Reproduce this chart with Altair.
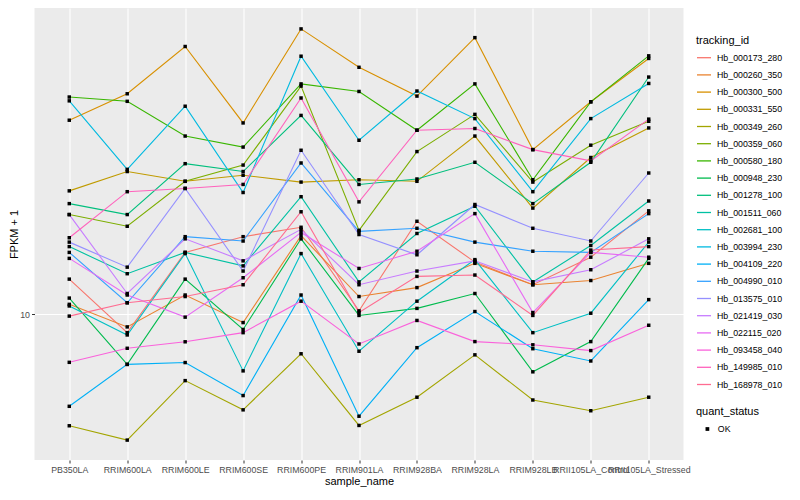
import altair as alt
import pandas as pd

samples = ["PB350LA", "RRIM600LA", "RRIM600LE", "RRIM600SE", "RRIM600PE", "RRIM901LA",
           "RRIM928BA", "RRIM928LA", "RRIM928LB", "RRII105LA_Control", "RRII105LA_Stressed"]

tracking_ids = ["Hb_000173_280", "Hb_000260_350", "Hb_000300_500", "Hb_000331_550",
                "Hb_000349_260", "Hb_000359_060", "Hb_000580_180", "Hb_000948_230",
                "Hb_001278_100", "Hb_001511_060", "Hb_002681_100", "Hb_003994_230",
                "Hb_004109_220", "Hb_004990_010", "Hb_013575_010", "Hb_021419_030",
                "Hb_022115_020", "Hb_093458_040", "Hb_149985_010", "Hb_168978_010"]

colors = ["#F8766D", "#EA8331", "#D89000", "#C09B00", "#A3A500", "#7CAE00", "#39B600",
          "#00BB4E", "#00BF7D", "#00C1A3", "#00BFC4", "#00BAE0", "#00B0F6", "#35A2FF",
          "#9590FF", "#C77CFF", "#E76BF3", "#FA62DB", "#FF62BC", "#FF6C91"]

# FPKM + 1 per sample (same order as samples)
Hb_000173_280 = [12.3, 8.97, 14.4, 15.8, 16.7, 10.2, 17.3, 13.6, 11.9, 14.0, 18.4]
Hb_000260_350 = [10.6, 9.28, 11.2, 9.52, 15.9, 11.1, 11.7, 13.5, 11.9, 12.2, 13.5]
Hb_000300_500 = [31.4, 36.7, 48.5, 30.9, 53.8, 42.9, 36.2, 51.1, 26.4, 35.0, 45.2]
Hb_000331_550 = [20.7, 23.2, 21.9, 22.7, 21.8, 22.1, 21.9, 28.6, 18.7, 25.2, 30.0]
Hb_000349_260 = [5.18, 4.76, 6.76, 5.69, 7.92, 5.19, 6.13, 7.87, 6.03, 5.66, 6.13]
Hb_000359_060 = [18.0, 16.8, 21.9, 24.1, 38.4, 16.4, 26.1, 32.5, 21.8, 27.1, 31.2]
Hb_000580_180 = [36.0, 35.1, 28.6, 26.8, 38.9, 37.2, 29.6, 38.9, 22.1, 35.0, 45.9]
Hb_000948_230 = [11.0, 7.44, 12.3, 9.14, 15.6, 9.93, 10.35, 11.3, 7.12, 8.51, 13.9]
Hb_001278_100 = [19.2, 18.0, 24.3, 23.2, 32.3, 21.5, 22.2, 24.5, 19.2, 24.5, 40.5]
Hb_001511_060 = [14.9, 12.7, 14.4, 13.3, 20.0, 12.1, 16.1, 18.9, 12.1, 15.0, 19.5]
Hb_002681_100 = [10.5, 8.85, 14.3, 7.16, 14.3, 8.04, 10.8, 13.8, 8.97, 10.06, 15.3]
Hb_003994_230 = [35.2, 23.5, 34.1, 20.5, 45.8, 27.9, 37.3, 31.7, 20.6, 31.7, 39.0]
Hb_004109_220 = [5.81, 7.44, 7.52, 6.19, 11.2, 5.48, 8.21, 10.16, 8.16, 7.59, 10.9]
Hb_004990_010 = [14.4, 10.7, 15.8, 15.4, 24.4, 16.3, 16.6, 15.3, 14.5, 14.4, 18.1]
Hb_013575_010 = [15.3, 13.2, 21.0, 12.9, 26.3, 16.0, 14.2, 19.1, 16.6, 15.4, 23.0]
Hb_021419_030 = [18.0, 11.3, 15.6, 13.7, 16.5, 11.9, 12.9, 13.7, 12.1, 13.0, 15.6]
Hb_022115_020 = [13.9, 11.2, 9.83, 12.4, 16.2, 13.1, 14.5, 18.1, 10.1, 14.4, 14.0]
Hb_093458_040 = [7.53, 8.18, 8.50, 8.97, 10.8, 8.39, 9.64, 8.51, 8.35, 8.07, 9.37]
Hb_149985_010 = [15.7, 20.6, 21.0, 21.5, 35.8, 19.4, 29.6, 29.9, 26.4, 24.7, 31.6]
Hb_168978_010 = [9.89, 10.7, 11.1, 11.9, 18.3, 10.1, 12.5, 12.6, 9.93, 14.6, 14.9]

series = [Hb_000173_280, Hb_000260_350, Hb_000300_500, Hb_000331_550, Hb_000349_260,
          Hb_000359_060, Hb_000580_180, Hb_000948_230, Hb_001278_100, Hb_001511_060,
          Hb_002681_100, Hb_003994_230, Hb_004109_220, Hb_004990_010, Hb_013575_010,
          Hb_021419_030, Hb_022115_020, Hb_093458_040, Hb_149985_010, Hb_168978_010]

quant_status = ["OK"]
y_ticks = [10]

rows = []
for tid, vals in zip(tracking_ids, series):
    for s, v in zip(samples, vals):
        rows.append({"tracking_id": tid, "sample_name": s, "fpkm": v, "quant_status": "OK"})
df = pd.DataFrame(rows)

FONT = "Liberation Sans"

x_enc = alt.X("sample_name:N", sort=samples, title="sample_name",
              scale=alt.Scale(type="point", padding=0.6),
              axis=alt.Axis(labelAngle=0, labelOverlap=False, labelBound=False, labelLimit=0,
                            labelPadding=2, titlePadding=2, tickSize=3, grid=True))
y_enc = alt.Y("fpkm:Q", title="FPKM + 1",
              scale=alt.Scale(type="log", domain=[4.233, 60.86], nice=False, zero=False),
              axis=alt.Axis(values=y_ticks, format="d", tickSize=3, labelPadding=2,
                            titlePadding=0.5, grid=True))

lines = alt.Chart(df).mark_line(strokeWidth=1.1).encode(
    x=x_enc, y=y_enc,
    color=alt.Color("tracking_id:N",
                    scale=alt.Scale(domain=tracking_ids, range=colors),
                    legend=alt.Legend(orient="none", legendX=661.5, legendY=27,
                                      symbolType="stroke", symbolSize=196,
                                      symbolStrokeWidth=1.3, rowPadding=4.2,
                                      titlePadding=3.7, labelOffset=5, padding=0)),
)

points = alt.Chart(df).mark_point(filled=True, size=12, opacity=1, color="black").encode(
    x=x_enc, y=y_enc,
    shape=alt.Shape("quant_status:N",
                    scale=alt.Scale(domain=quant_status, range=["square"]),
                    legend=alt.Legend(orient="none", legendX=661.5, legendY=398,
                                      titlePadding=7.6, symbolOffset=7, labelOffset=6,
                                      padding=0, symbolFillColor="black",
                                      symbolStrokeColor="black", symbolSize=14)),
)

chart = alt.layer(lines, points).properties(
    width=649, height=452,
    autosize=alt.AutoSizeParams(type="none"),
    padding={"left": 26.5, "top": 0, "right": 108, "bottom": 28},
    background="white",
).configure_view(
    fill="#EBEBEB", stroke=None
).configure_axis(
    domain=False, tickColor="#333333", tickWidth=1,
    gridColor="white", gridWidth=1.1,
    labelColor="#4D4D4D", labelFontSize=8.8, labelFont=FONT,
    titleFont=FONT, titleFontSize=11, titleFontWeight="normal", titleColor="black",
).configure_legend(
    titleFont=FONT, titleFontSize=11, titleFontWeight="normal", titleColor="black",
    labelFont=FONT, labelFontSize=8.8, labelColor="black",
)

chart.save("out.html", embed_options={"renderer": "svg", "actions": False})
